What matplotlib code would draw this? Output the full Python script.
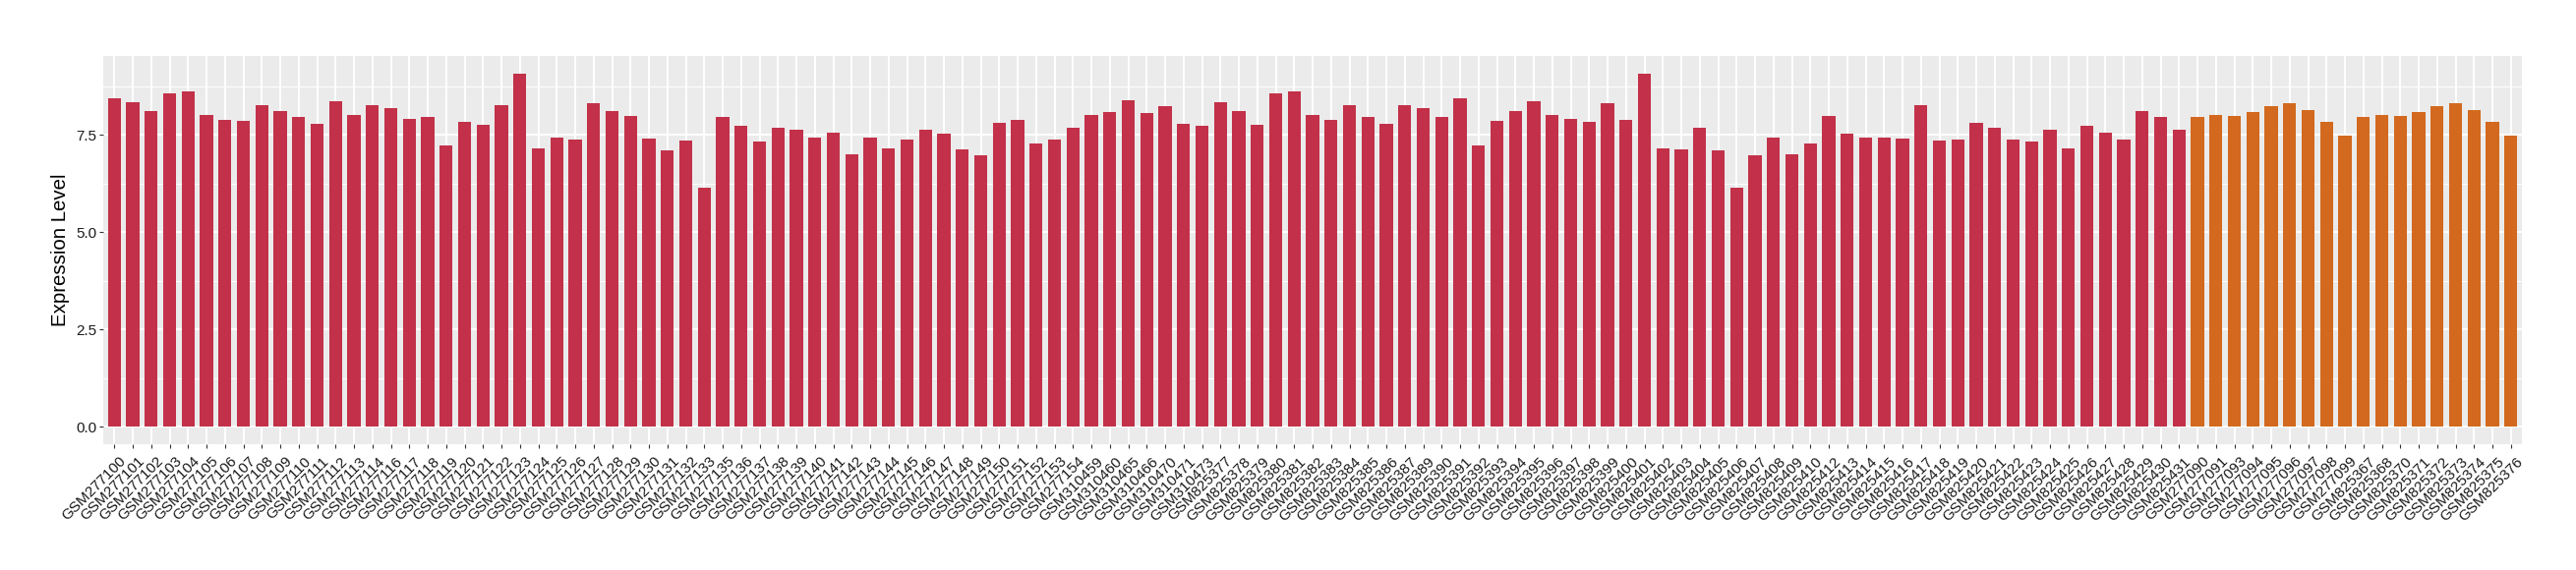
import numpy as np
import matplotlib
matplotlib.use("Agg")
import matplotlib.pyplot as plt
import matplotlib.transforms as mtransforms

plt.rcParams['font.family'] = ['Liberation Sans', 'DejaVu Sans']

# group 1 (red)
red_samples = [
    "GSM277100", "GSM277101", "GSM277102", "GSM277103", "GSM277104", "GSM277105",
    "GSM277106", "GSM277107", "GSM277108", "GSM277109", "GSM277110", "GSM277111",
    "GSM277112", "GSM277113", "GSM277114", "GSM277116", "GSM277117", "GSM277118",
    "GSM277119", "GSM277120", "GSM277121", "GSM277122", "GSM277123", "GSM277124",
    "GSM277125", "GSM277126", "GSM277127", "GSM277128", "GSM277129", "GSM277130",
    "GSM277131", "GSM277132", "GSM277133", "GSM277135", "GSM277136", "GSM277137",
    "GSM277138", "GSM277139", "GSM277140", "GSM277141", "GSM277142", "GSM277143",
    "GSM277144", "GSM277145", "GSM277146", "GSM277147", "GSM277148", "GSM277149",
    "GSM277150", "GSM277151", "GSM277152", "GSM277153", "GSM277154",
    "GSM310459", "GSM310460", "GSM310465", "GSM310466", "GSM310470", "GSM310471",
    "GSM310473",
    "GSM825377", "GSM825378", "GSM825379", "GSM825380", "GSM825381", "GSM825382",
    "GSM825383", "GSM825384", "GSM825385", "GSM825386", "GSM825387", "GSM825389",
    "GSM825390", "GSM825391", "GSM825392", "GSM825393", "GSM825394", "GSM825395",
    "GSM825396", "GSM825397", "GSM825398", "GSM825399", "GSM825400", "GSM825401",
    "GSM825402", "GSM825403", "GSM825404", "GSM825405", "GSM825406", "GSM825407",
    "GSM825408", "GSM825409", "GSM825410", "GSM825412", "GSM825413", "GSM825414",
    "GSM825415", "GSM825416", "GSM825417", "GSM825418", "GSM825419", "GSM825420",
    "GSM825421", "GSM825422", "GSM825423", "GSM825424", "GSM825425", "GSM825426",
    "GSM825427", "GSM825428", "GSM825429", "GSM825430", "GSM825431",
]
red_values = [
    8.43, 8.33, 8.11, 8.56, 8.61, 8.00, 7.87, 7.85, 8.27, 8.11, 7.95, 7.77, 8.36, 8.02, 8.27,
    8.18, 7.90, 7.95, 7.22, 7.83, 7.75, 8.26, 9.07, 7.14, 7.43, 7.37, 8.30, 8.11, 7.98, 7.40,
    7.09, 7.34, 6.15,
    7.95, 7.72, 7.32, 7.68, 7.62, 7.43, 7.55, 7.00, 7.43, 7.16, 7.37, 7.62, 7.52, 7.12, 6.97,
    7.80, 7.87, 7.27, 7.37, 7.68,
    8.02, 8.08, 8.38, 8.05, 8.23, 7.77, 7.72,
    8.33, 8.11, 7.75, 8.56, 8.61, 8.00, 7.87, 8.27, 7.95, 7.77, 8.27,
    8.18, 7.95, 8.43, 7.22, 7.85, 8.11, 8.36, 8.02, 7.90, 7.83, 8.30, 7.87, 9.07, 7.14, 7.12,
    7.68, 7.09, 6.15, 6.97, 7.43, 7.00, 7.27,
    7.98, 7.52, 7.43, 7.43, 7.40, 8.26, 7.34, 7.37, 7.80, 7.68, 7.37, 7.32, 7.62, 7.16, 7.72,
    7.55, 7.37, 8.11, 7.95, 7.62,
]

# group 2 (orange)
orange_samples = [
    "GSM277090", "GSM277091", "GSM277093", "GSM277094", "GSM277095", "GSM277096",
    "GSM277097", "GSM277098", "GSM277099", "GSM825367", "GSM825368", "GSM825370",
    "GSM825371", "GSM825372", "GSM825373", "GSM825374", "GSM825375", "GSM825376",
]
orange_values = [
    7.95, 8.00, 7.98, 8.08, 8.23, 8.30, 8.13, 7.83, 7.47,
    7.95, 8.00, 7.98, 8.08, 8.23, 8.30, 8.13, 7.83, 7.47,
]

red_col = '#C23149'
orange_col = '#D2691E'

samples = red_samples + orange_samples
values = red_values + orange_values
colors = [red_col] * len(red_samples) + [orange_col] * len(orange_samples)
n = len(samples)
x = np.arange(n)

W, H = 2620, 580
fig = plt.figure(figsize=(W / 100, H / 100), dpi=100)
ax = fig.add_axes([105 / W, 1 - 452 / H, 2460 / W, 395 / H])
ax.set_facecolor('#EBEBEB')

# grid like ggplot theme_gray
for yv in [1.25, 3.75, 6.25, 8.75]:
    ax.axhline(yv, color='white', lw=0.7, zorder=0)
for yv in [0, 2.5, 5.0, 7.5]:
    ax.axhline(yv, color='white', lw=1.4, zorder=0)
for xv in x:
    ax.axvline(xv, color='white', lw=1.4, zorder=0)

ax.bar(x, values, width=0.7, color=colors, zorder=2)

ymax = max(values)
ax.set_xlim(-0.6, n - 1 + 0.6)
ax.set_ylim(-0.05 * ymax, ymax * 1.05)
ax.set_yticks([0, 2.5, 5.0, 7.5])
ax.set_yticklabels(['0.0', '2.5', '5.0', '7.5'])
ax.set_xticks(x)
ax.set_xticklabels(samples, rotation=45, ha='right', va='top', rotation_mode='anchor')

for s in ax.spines.values():
    s.set_visible(False)
ax.tick_params(axis='both', length=3, width=0.8, color='#333333',
               labelsize=11, labelcolor='#1a1a1a', pad=2)
ax.tick_params(axis='x', pad=3)

offset = mtransforms.ScaledTranslation(5 / 100, -2 / 100, fig.dpi_scale_trans)
for lab in ax.get_xticklabels():
    lab.set_transform(lab.get_transform() + offset)

ax.set_ylabel('Expression Level', fontsize=14.7, labelpad=4)

fig.savefig('out.png', dpi=100)
